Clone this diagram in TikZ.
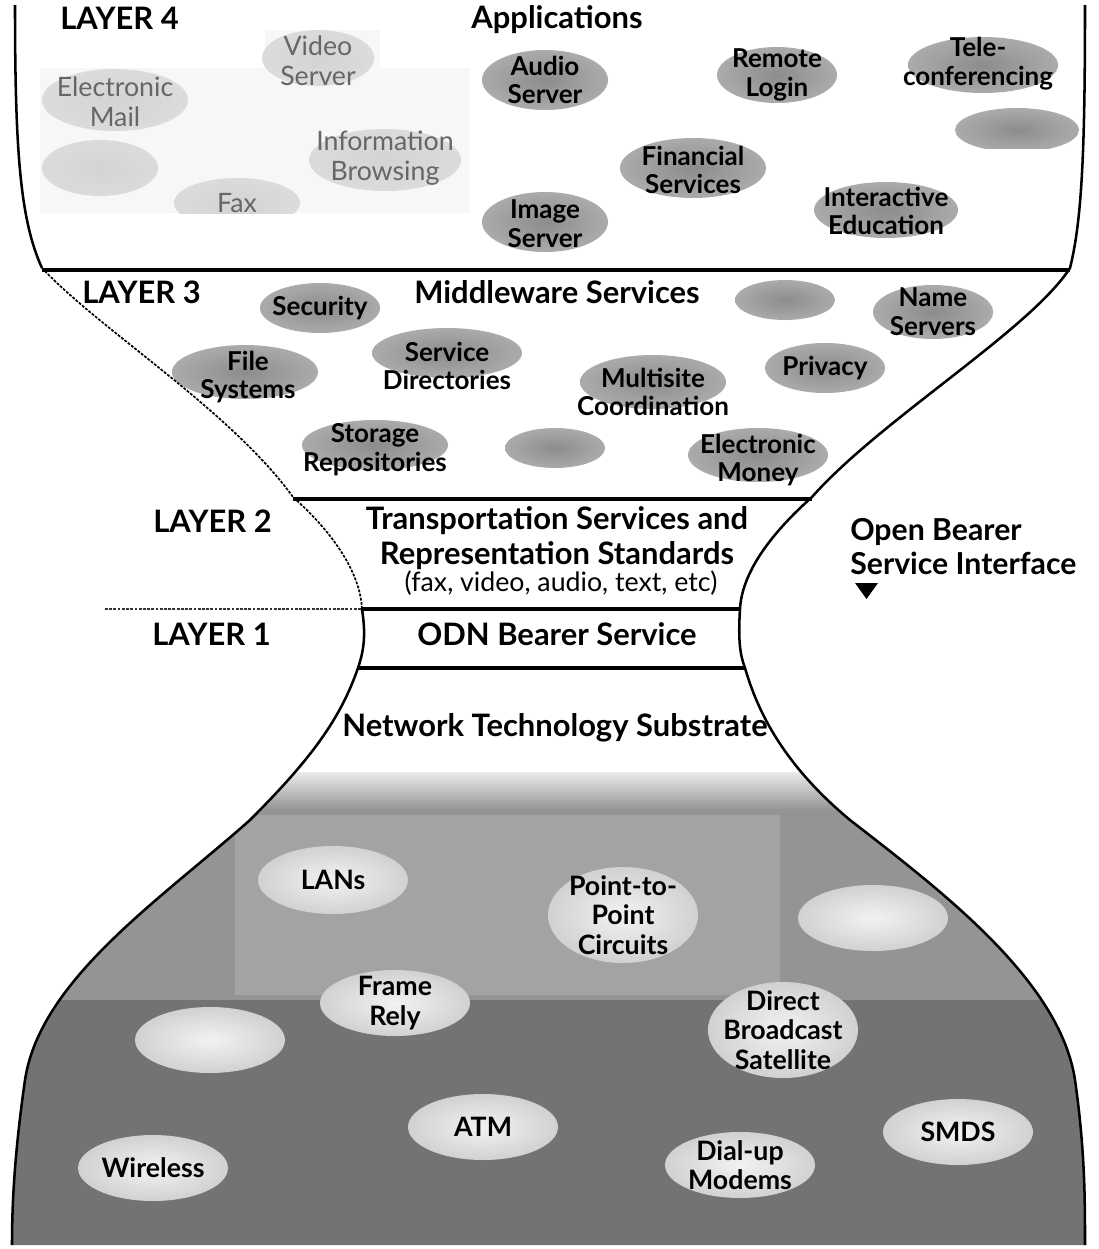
\documentclass[tikz,border=0pt]{standalone}
\usepackage{fontspec}
\setmainfont{Lato}
\usetikzlibrary{shapes.geometric}

\tikzset{
  heading/.style={font=\fontsize{22}{25}\selectfont\bfseries, align=center, inner sep=0pt},
  tag/.style={font=\fontsize{18.5}{20.5}\selectfont\bfseries, align=center, inner sep=0pt},
  nettag/.style={font=\fontsize{19}{21}\selectfont\bfseries, align=center, inner sep=0pt},
  faint/.style={font=\fontsize{19}{21}\selectfont, text=black!60, align=center, inner sep=0pt},
  darkbub/.style={inner color=black!45, outer color=black!33},
  palebub/.style={inner color=black!17, outer color=black!14},
  netbub/.style={inner color=black!5, outer color=black!18},
  rule/.style={line width=2.2pt},
  edge/.style={line width=1.8pt},
}

\begin{document}
\begin{tikzpicture}[x=0.025cm,y=-0.025cm]
\useasboundingbox (0,0) rectangle (1098,1249);

% substrate background
\begin{scope}
\clip (358,668) .. controls (340,720) and (310,760) .. (250,820)
  .. controls (160,900) and (40,980) .. (25,1080)
  .. controls (15,1150) and (12,1200) .. (12,1245) -- (1085,1245)
  .. controls (1085,1200) and (1085,1150) .. (1075,1080)
  .. controls (1060,980) and (940,890) .. (850,820)
  .. controls (790,770) and (760,720) .. (745,668) -- cycle;
\shade[top color=black!8, bottom color=black!42] (0,772) rectangle (1098,810);
\fill[black!42] (0,810) rectangle (1098,1000);
\fill[black!36] (235,815) rectangle (780,995);
\fill[black!55] (0,1000) rectangle (1098,1249);
\end{scope}

% layer 4 faint area
\fill[black!3] (40,68) rectangle (470,213);
\fill[black!3] (265,30) rectangle (380,68);
\begin{scope}
\clip (0,0) rectangle (1098,213);
\shade[palebub] (115,100) ellipse [x radius=73, y radius=31];
\shade[palebub] (318,58) ellipse [x radius=56, y radius=28];
\shade[palebub] (100,168) ellipse [x radius=58, y radius=28];
\shade[palebub] (237,203) ellipse [x radius=63, y radius=25];
\shade[palebub] (385,160) ellipse [x radius=76, y radius=31];
\end{scope}

% layer 4 bubbles
\shade[darkbub] (545,80) ellipse [x radius=63, y radius=30];
\shade[darkbub] (777,75) ellipse [x radius=60, y radius=28];
\shade[darkbub] (983,65) ellipse [x radius=75, y radius=28];
\begin{scope}
\clip (900,100) rectangle (1098,148);
\shade[darkbub] (1017,130) ellipse [x radius=62, y radius=22];
\end{scope}
\shade[darkbub] (693,168) ellipse [x radius=73, y radius=30];
\shade[darkbub] (545,222) ellipse [x radius=63, y radius=30];
\shade[darkbub] (886,210) ellipse [x radius=72, y radius=28];

% layer 3 bubbles
\shade[darkbub] (320,308) ellipse [x radius=60, y radius=25];
\shade[darkbub] (785,300) ellipse [x radius=50, y radius=20];
\shade[darkbub] (933,312) ellipse [x radius=60, y radius=27];
\shade[darkbub] (245,372) ellipse [x radius=73, y radius=27];
\shade[darkbub] (447,353) ellipse [x radius=75, y radius=25];
\shade[darkbub] (653,382) ellipse [x radius=73, y radius=27];
\shade[darkbub] (825,368) ellipse [x radius=60, y radius=25];
\shade[darkbub] (375,445) ellipse [x radius=73, y radius=25];
\shade[darkbub] (555,448) ellipse [x radius=50, y radius=20];
\shade[darkbub] (758,455) ellipse [x radius=70, y radius=27];

% substrate bubbles
\shade[netbub] (333,880) ellipse [x radius=75, y radius=34];
\shade[netbub] (623,915) ellipse [x radius=75, y radius=48];
\shade[netbub] (873,918) ellipse [x radius=75, y radius=33];
\shade[netbub] (395,1003) ellipse [x radius=75, y radius=33];
\shade[netbub] (210,1040) ellipse [x radius=75, y radius=33];
\shade[netbub] (783,1030) ellipse [x radius=75, y radius=48];
\shade[netbub] (483,1127) ellipse [x radius=75, y radius=33];
\shade[netbub] (153,1168) ellipse [x radius=75, y radius=33];
\shade[netbub] (740,1165) ellipse [x radius=75, y radius=33];
\shade[netbub] (958,1132) ellipse [x radius=75, y radius=33];

% hourglass outline
\draw[edge] (15,5) .. controls (15,150) and (20,220) .. (42,268);
\draw[line width=1.2pt, dash pattern=on 2pt off 1pt] (42,268) .. controls (100,330) and (230,410) .. (293,497)
  .. controls (330,530) and (360,570) .. (362,609);
\draw[edge] (362,609) .. controls (366,635) and (364,650) .. (358,668)
  .. controls (340,720) and (310,760) .. (250,820)
  .. controls (160,900) and (40,980) .. (25,1080)
  .. controls (15,1150) and (12,1200) .. (12,1245);
\draw[edge] (1085,5) .. controls (1085,150) and (1082,220) .. (1070,268)
  .. controls (1030,330) and (880,420) .. (812,497)
  .. controls (775,530) and (742,570) .. (740,609)
  .. controls (738,640) and (740,655) .. (745,668)
  .. controls (760,720) and (790,770) .. (850,820)
  .. controls (940,890) and (1060,980) .. (1075,1080)
  .. controls (1085,1150) and (1085,1200) .. (1085,1245);

% layer rules
\draw[rule] (42,270) -- (1070,270);
\draw[rule] (293,499) -- (812,499);
\draw[rule] (362,609) -- (740,609);
\draw[rule] (358,668) -- (745,668);
\draw[line width=1pt, dash pattern=on 2pt off 1pt, black!80] (105,609) -- (362,609);

% headings
\node[heading, anchor=west] (l4) at (60,18) {LAYER 4};
\node[heading] (apps) at (557,20) {Applications};
\node[heading, anchor=west] (l3) at (82,292) {LAYER 3};
\node[heading] (mw) at (557,292) {Middleware Services};
\node[heading, anchor=west] (l2) at (153,521) {LAYER 2};
\node[heading, anchor=north] (trans) at (557,506) {Transportation Services and\\Representation Standards};
\node[font=\fontsize{19}{19}\selectfont, inner sep=0pt] (fmt) at (561,583) {(fax, video, audio, text, etc)};
\node[heading, anchor=west] (l1) at (152,634) {LAYER 1};
\node[heading] (odn) at (557,634) {ODN Bearer Service};
\node[heading] (nts) at (555,728) {Network Technology Substrate};
\node[heading, anchor=north west, align=left, font=\fontsize{21.5}{24}\selectfont\bfseries] (obsi) at (850,518) {Open Bearer\\Service Interface};
\fill (855,583) -- (878,583) -- (866.5,599) -- cycle;

% layer 4 labels
\node[faint] (email) at (115,102) {Electronic\\Mail};
\node[faint] (video) at (318,61) {Video\\Server};
\node[faint] (fax) at (237,203) {Fax};
\node[faint] (browse) at (385,158) {Information\\Browsing};
\node[tag] (audio) at (545,80) {Audio\\Server};
\node[tag] (remote) at (777,75) {Remote\\Login};
\node[tag] (tele) at (978,64) {Tele-\\conferencing};
\node[tag] (finance) at (693,170) {Financial\\Services};
\node[tag] (image) at (545,224) {Image\\Server};
\node[tag] (edu) at (886,211) {Interactive\\Education};

% layer 3 labels
\node[tag] (secure) at (320,308) {Security};
\node[tag] (names) at (933,312) {Name\\Servers};
\node[tag] (files) at (248,377) {File\\Systems};
\node[tag] (dirs) at (447,366) {Service\\Directories};
\node[tag] (multi) at (653,392) {Multisite\\Coordination};
\node[tag] (privacy) at (825,368) {Privacy};
\node[tag] (store) at (375,450) {Storage\\Repositories};
\node[tag] (money) at (758,460) {Electronic\\Money};

% substrate labels
\node[nettag] (lans) at (333,880) {LANs};
\node[nettag] (ptp) at (623,915) {Point-to-\\Point\\Circuits};
\node[nettag] (frame) at (395,1003) {Frame\\Rely};
\node[nettag] (dbs) at (783,1030) {Direct\\Broadcast\\Satellite};
\node[nettag] (atm) at (483,1127) {ATM};
\node[nettag] (wireless) at (153,1168) {Wireless};
\node[nettag] (dialup) at (740,1165) {Dial-up\\Modems};
\node[nettag] (smds) at (958,1132) {SMDS};
\end{tikzpicture}
\end{document}
